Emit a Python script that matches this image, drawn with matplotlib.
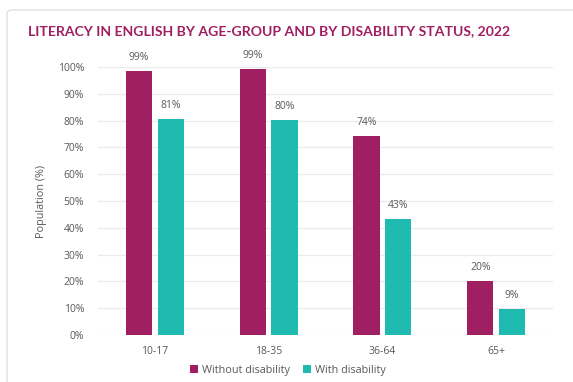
import numpy as np
import matplotlib.pyplot as plt
from matplotlib.patches import FancyBboxPatch

plt.rcParams['font.family'] = ['Open Sans', 'DejaVu Sans']

groups = ['10-17', '18-35', '36-64', '65+']
without_dis = [98.6, 99.4, 74.3, 20.2]
with_dis = [80.7, 80.3, 43.3, 9.7]
without_lbl = ['99%', '99%', '74%', '20%']
with_lbl = ['81%', '80%', '43%', '9%']

c_without = '#A01F62'
c_with = '#20BBB0'
grey = '#595959'

fig = plt.figure(figsize=(5.73, 3.82), dpi=100)
fig.patches.append(FancyBboxPatch((7 / 573, -0.05), 1.2, 1 - 10 / 382 + 0.05,
                                  boxstyle='round,pad=0,rounding_size=0.01',
                                  transform=fig.transFigure, facecolor='white',
                                  edgecolor='#D9D9D9', linewidth=0.8, zorder=-1))

ax = fig.add_axes([98 / 573, 1 - 335 / 382, 455 / 573, 268 / 382])
x = np.arange(len(groups))
w = 0.23
off = 0.14
b1 = ax.bar(x - off, without_dis, w, color=c_without, label='Without disability', zorder=3)
b2 = ax.bar(x + off, with_dis, w, color=c_with, label='With disability', zorder=3)

for bars, labels in ((b1, without_lbl), (b2, with_lbl)):
    for b, t in zip(bars, labels):
        ax.text(b.get_x() + b.get_width() / 2, b.get_height() + 3, t,
                ha='center', va='bottom', fontsize=7.5, color=grey)

ax.set_xlim(-0.5, 3.5)
ax.set_ylim(0, 100)
ax.set_yticks(range(0, 101, 10))
ax.set_yticklabels([f'{v}%' for v in range(0, 101, 10)])
ax.set_xticks(x)
ax.set_xticklabels(groups)
ax.tick_params(length=0, labelsize=7.5, colors=grey, pad=8)
ax.tick_params(axis='y', pad=10)
ax.grid(axis='y', color='#EBEBEB', linewidth=0.9, zorder=0)
for s in ax.spines.values():
    s.set_visible(False)
ax.set_ylabel('Population (%)', fontsize=7.8, color=grey, labelpad=8)

fig.text(269 / 573, 1 - 31 / 382, 'LITERACY IN ENGLISH BY AGE-GROUP AND BY DISABILITY STATUS, 2022',
         ha='center', va='center', fontsize=10.1, fontweight='bold', color=c_without,
         family=['Lato', 'DejaVu Sans'])

fig.legend(loc='center', bbox_to_anchor=(288 / 573, 1 - 370 / 382), ncol=2, frameon=False,
           fontsize=7.8, labelcolor=grey, handlelength=0.7, handleheight=0.7,
           handletextpad=0.4, columnspacing=1.2)

fig.savefig('out.png', dpi=100)
